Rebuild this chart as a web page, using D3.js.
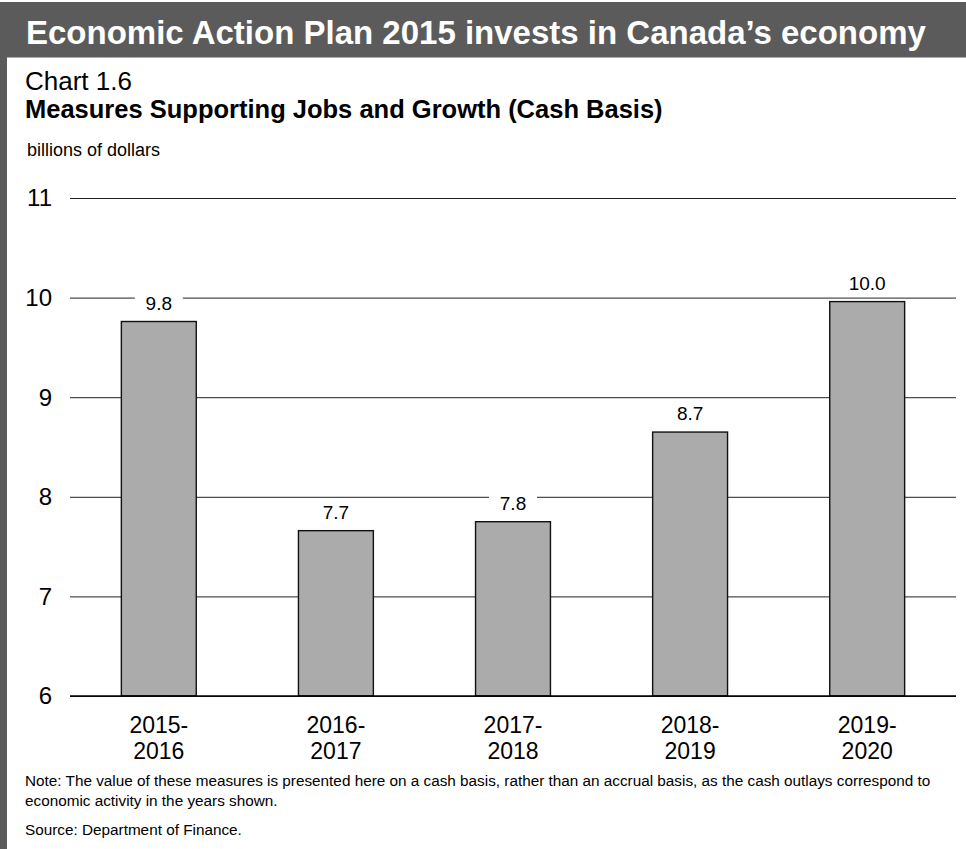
<!DOCTYPE html>
<html>
<head>
<meta charset="utf-8">
<script src="https://cdn.jsdelivr.net/npm/d3@7"></script>
<style>
  body { margin: 0; background: #fff; }
  text { font-family: "Liberation Sans", Arial, sans-serif; }
  .note { font-family: "Liberation Sans Narrow", "Arial Narrow", sans-serif; font-size: 18.6px; }
</style>
</head>
<body>
<div id="chart"></div>
<script>
var years = ["2015-2016", "2016-2017", "2017-2018", "2018-2019", "2019-2020"];
var values = [9.76, 7.66, 7.75, 8.65, 9.96];
var valueLabels = ["9.8", "7.7", "7.8", "8.7", "10.0"];
var yTicks = [6, 7, 8, 9, 10, 11];
var noteLines = [
  "Note: The value of these measures is presented here on a cash basis, rather than an accrual basis, as the cash outlays correspond to",
  "economic activity in the years shown."
];
var sourceLine = "Source: Department of Finance.";

var W = 966, H = 849;
var margin = {top: 198, right: 10, bottom: 153, left: 70},
    width = W - margin.left - margin.right,
    height = H - margin.top - margin.bottom;

var svg = d3.select("#chart")
  .append("svg")
    .attr("width", W)
    .attr("height", H);

// header band + left rule
svg.append("rect").attr("x", 0).attr("y", 2).attr("width", W).attr("height", 55.5).attr("fill", "#5b5b5b");
svg.append("rect").attr("x", 0).attr("y", 2).attr("width", 7).attr("height", H).attr("fill", "#5b5b5b");
svg.append("text")
  .attr("x", 26).attr("y", 44)
  .attr("fill", "#fff")
  .style("font-size", "33px").style("font-weight", "bold")
  .text("Economic Action Plan 2015 invests in Canada\u2019s economy");

svg.append("text").attr("x", 25).attr("y", 90)
  .style("font-size", "26px").text("Chart 1.6");
svg.append("text").attr("x", 25).attr("y", 118)
  .style("font-size", "25.5px").style("font-weight", "bold")
  .text("Measures Supporting Jobs and Growth (Cash Basis)");
svg.append("text").attr("x", 27).attr("y", 156)
  .style("font-size", "18px").text("billions of dollars");

var g = svg.append("g")
  .attr("transform", "translate(" + margin.left + "," + margin.top + ")");

var x = d3.scaleBand()
  .domain(years)
  .range([0, width])
  .paddingInner(0.577)
  .paddingOuter(0.29);

var y = d3.scaleLinear()
  .domain([6, 11])
  .range([height, 0]);

// gridlines
g.append("g")
  .call(d3.axisLeft(y).tickValues(yTicks).tickSize(-width).tickFormat(""))
  .call(function (a) {
    a.select(".domain").remove();
    a.selectAll("line").attr("stroke", "#222").attr("stroke-width", 1);
  });

// y tick labels
g.selectAll(".ylab")
  .data(yTicks)
  .enter()
  .append("text")
    .attr("x", -18)
    .attr("y", function (d) { return y(d); })
    .attr("dy", "0.35em")
    .attr("text-anchor", "end")
    .style("font-size", "24px")
    .text(function (d) { return d; });

// bars
g.selectAll(".bar")
  .data(values)
  .enter()
  .append("rect")
    .attr("x", function (d, i) { return x(years[i]); })
    .attr("y", function (d) { return y(d); })
    .attr("width", x.bandwidth())
    .attr("height", function (d) { return height - y(d); })
    .attr("fill", "#ababab")
    .attr("stroke", "#111")
    .attr("stroke-width", 1.4);

// value labels with white knock-out
var lab = g.selectAll(".vlab")
  .data(values)
  .enter()
  .append("g")
    .attr("transform", function (d, i) {
      return "translate(" + (x(years[i]) + x.bandwidth() / 2) + "," + (y(d) - 12) + ")";
    });
lab.append("rect")
  .attr("x", function (d, i) { return -valueLabels[i].length * 5 - 9; })
  .attr("y", -17)
  .attr("width", function (d, i) { return valueLabels[i].length * 10 + 18; })
  .attr("height", 22)
  .attr("fill", "#fff");
lab.append("text")
  .attr("text-anchor", "middle")
  .style("font-size", "19px")
  .text(function (d, i) { return valueLabels[i]; });

// x axis line
g.append("line")
  .attr("x1", 0).attr("x2", width)
  .attr("y1", height).attr("y2", height)
  .attr("stroke", "#000").attr("stroke-width", 1.6);

// category labels
var xl = g.selectAll(".xlab")
  .data(years)
  .enter()
  .append("text")
    .attr("text-anchor", "middle")
    .attr("transform", function (d) {
      return "translate(" + (x(d) + x.bandwidth() / 2) + "," + (height + 37) + ")";
    })
    .style("font-size", "23px");
xl.append("tspan").attr("x", 0).attr("dy", 0).text(function (d) { return d.slice(0, 5); });
xl.append("tspan").attr("x", 0).attr("dy", 26).text(function (d) { return d.slice(5); });

// note + source (narrow face; fall back to a smaller regular face if it is missing)
var notes = svg.selectAll(".note")
  .data(noteLines.concat([sourceLine]))
  .enter()
  .append("text")
    .attr("class", "note")
    .attr("x", 25)
    .attr("y", function (d, i) { return [786, 806, 835][i]; })
    .text(function (d) { return d; });
var noteW = notes.node().getComputedTextLength();
if (noteW > 1000) {
  notes.style("font-family", '"Liberation Sans", Arial, sans-serif').style("font-size", "15.3px");
} else if (noteW > 905) {
  notes.style("font-size", (18.6 * 905 / noteW) + "px");
}
</script>
</body>
</html>
